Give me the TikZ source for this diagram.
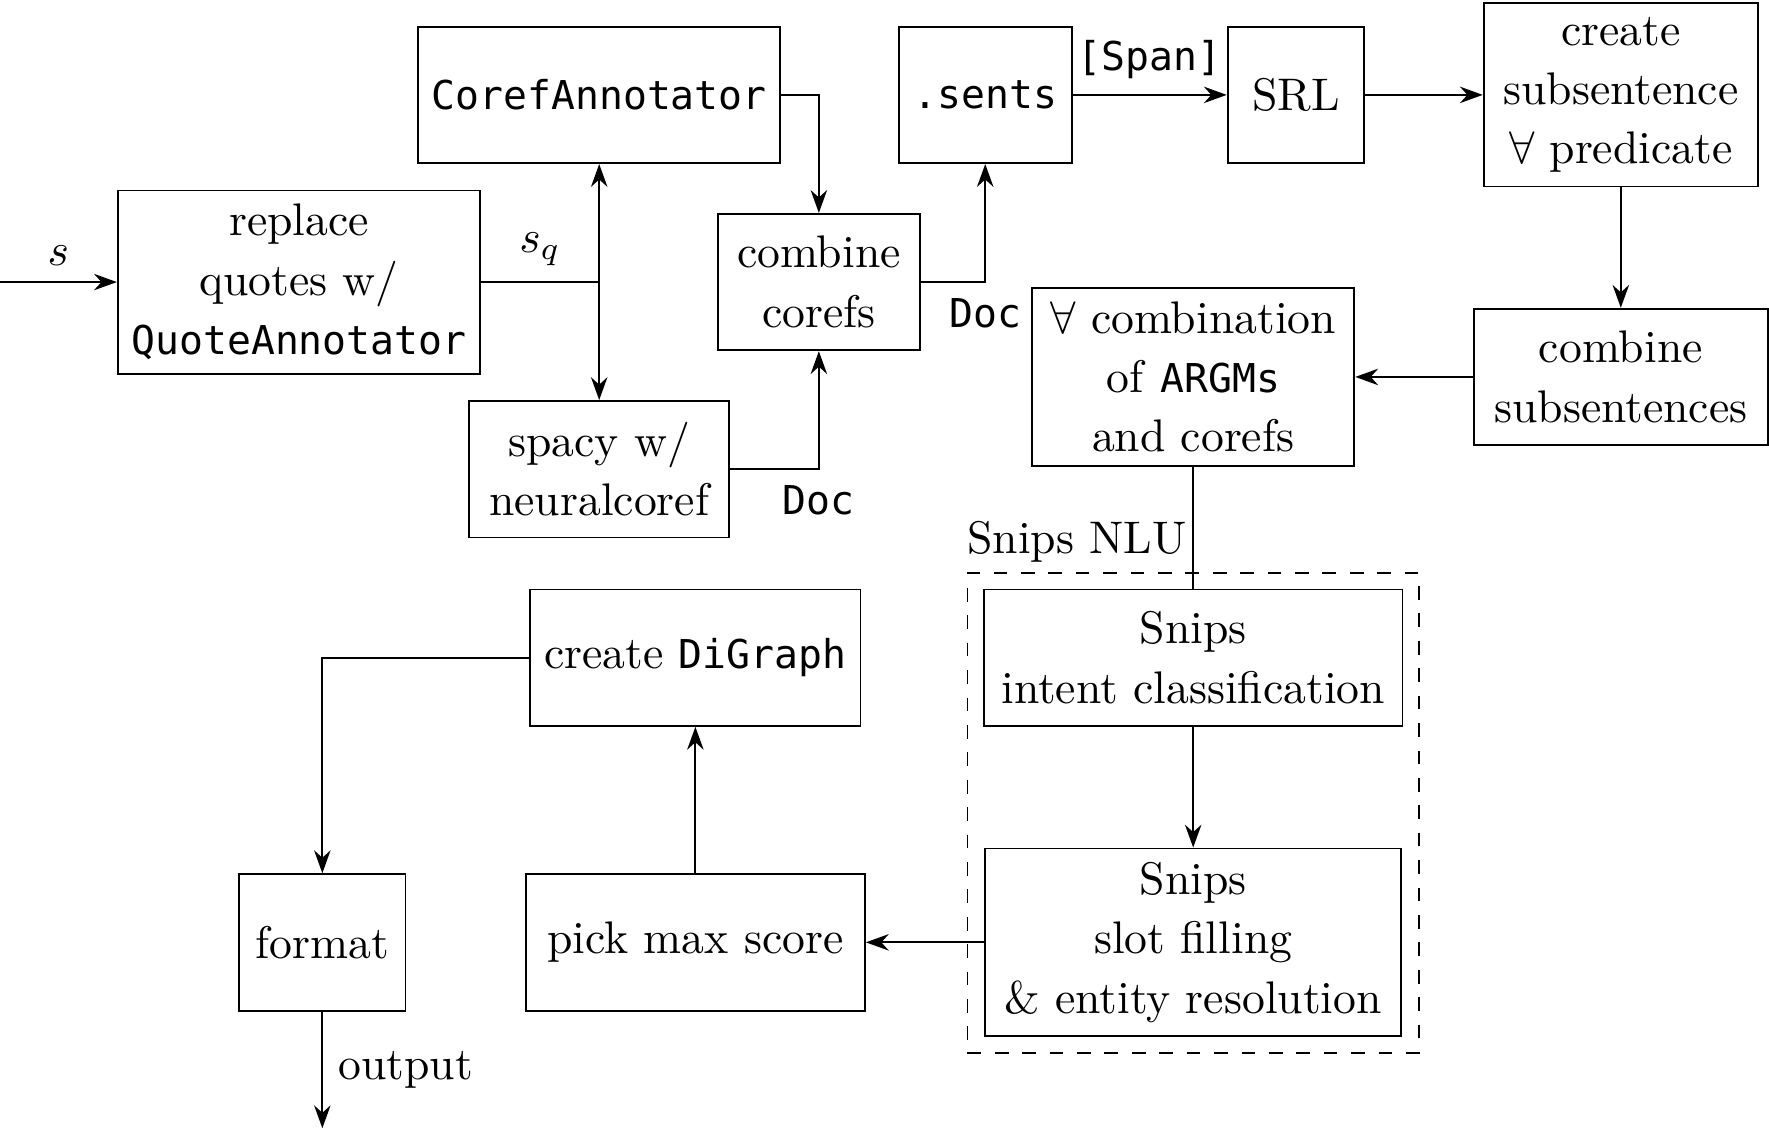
\documentclass[tikz,border=0pt]{standalone}
\usepackage{amsmath}
\usepackage{amssymb}
\usepackage{fontspec}
\setmonofont[Scale=0.87]{DejaVu Sans Mono}
\usepackage{tikz}
\usetikzlibrary{arrows.meta}
\usetikzlibrary{fit}

\begin{document}
\begin{tikzpicture}[
                    every node/.style={font=\fontsize{10}{13}\selectfont},
                    block/.style={draw, align=center, minimum height=1.05cm, inner sep=3pt},
                    flow/.style={-{Stealth[length=5pt,width=3.6pt]}},
                    group/.style={draw, dashed, inner sep=0.12cm}
                ]
                    \useasboundingbox (0,0) rectangle (13.61,-8.71);

                    \node[block, minimum width=2.77cm] (replace) at (2.30,-2.17) {replace\\quotes w/\\\texttt{QuoteAnnotator}};
                    \node[block, minimum width=2.78cm] (coref) at (4.61,-0.73) {\texttt{CorefAnnotator}};
                    \node[block, minimum width=2.00cm] (spacy) at (4.61,-3.61) {spacy w/\\neuralcoref};
                    \node[block, minimum width=1.55cm] (combine) at (6.30,-2.17) {combine\\corefs};
                    \node[block, minimum width=1.33cm] (sents) at (7.58,-0.73) {\texttt{.sents}};
                    \node[block, minimum width=1.05cm] (srl) at (9.97,-0.73) {SRL};
                    \node[block, minimum width=2.11cm] (subsent) at (12.47,-0.73) {create\\subsentence\\$\forall$ predicate};
                    \node[block, minimum width=2.26cm] (combsub) at (12.47,-2.90) {combine\\subsentences};
                    \node[block, minimum width=2.48cm] (argms) at (9.18,-2.90) {$\forall$ combination\\of \texttt{ARGMs}\\and corefs};
                    \node[block, minimum width=3.22cm] (intent) at (9.18,-5.06) {Snips\\intent classification};
                    \node[block, minimum width=3.20cm] (slot) at (9.18,-7.25) {Snips\\slot filling\\\& entity resolution};
                    \node[block, minimum width=2.61cm] (pick) at (5.35,-7.25) {pick max score};
                    \node[block, minimum width=2.54cm] (digraph) at (5.35,-5.06) {create \texttt{DiGraph}};
                    \node[block, minimum width=1.28cm] (format) at (2.48,-7.25) {format};

                    \node[group, fit=(intent)(slot),
                          label={[anchor=south west, inner sep=0pt, yshift=2pt]north west:Snips NLU}] (snips) {};

                    \coordinate (in) at (0,-2.17);
                    \coordinate (split) at (4.61,-2.17);
                    \coordinate (out) at (2.48,-8.68);

                    \draw[flow] (in) -- node[above] {$s$} (replace.west);
                    \draw (replace.east) -- node[above] {$s_q$} (split);
                    \draw[flow] (split) -- (coref.south);
                    \draw[flow] (split) -- (spacy.north);
                    \draw[flow] (coref.east) -| (combine.north);
                    \draw[flow] (spacy.east) -| node[pos=0.5, below] {\texttt{Doc}} (combine.south);
                    \draw[flow] (combine.east) -| node[pos=0.5, below] {\texttt{Doc}} (sents.south);
                    \draw[flow] (sents.east) -- node[above] {\texttt{[Span]}} (srl.west);
                    \draw[flow] (srl.east) -- (subsent.west);
                    \draw[flow] (subsent.south) -- (combsub.north);
                    \draw[flow] (combsub.west) -- (argms.east);
                    \draw (argms.south) -- (intent.north);
                    \draw[flow] (intent.south) -- (slot.north);
                    \draw[flow] (slot.west) -- (pick.east);
                    \draw[flow] (pick.north) -- (digraph.south);
                    \draw[flow] (digraph.west) -| (format.north);
                    \draw[flow] (format.south) -- node[right] {output} (out);
                \end{tikzpicture}
\end{document}
